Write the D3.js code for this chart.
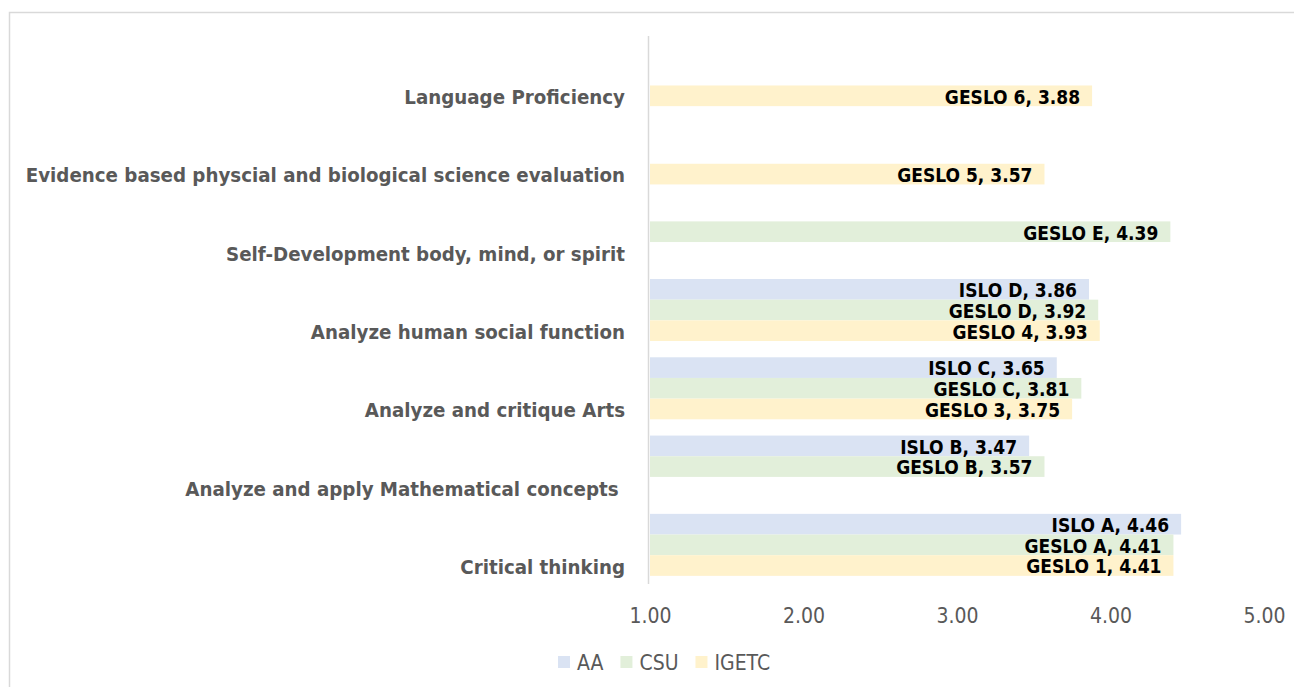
<!DOCTYPE html>
<html>
<head>
<meta charset="utf-8">
<script src="https://cdn.jsdelivr.net/npm/d3@7"></script>
<style>
  body { margin: 0; background: #fff; }
  svg { display: block; font-family: "Liberation Sans Narrow", "DejaVu Sans Condensed", "Liberation Sans", sans-serif; }
  .cat { white-space: pre; }
</style>
</head>
<body>
<svg id="chart" width="1294" height="687"></svg>
<script>
// categories top to bottom
const categories = [
    "Language Proficiency",
    "Evidence based physcial and biological science evaluation",
    "Self-Development body, mind, or spirit",
    "Analyze human social function",
    "Analyze and critique Arts",
    "Analyze and apply Mathematical concepts ",
    "Critical thinking"
];
const series = ["AA", "CSU", "IGETC"];
const seriesColors = ["#dae3f3", "#e2efda", "#fff2cc"];

// values per series, aligned with categories (null = no bar)
const aaValues    = [null, null, null, 3.86, 3.65, 3.47, 4.46];
const aaNames     = [null, null, null, "ISLO D", "ISLO C", "ISLO B", "ISLO A"];
const csuValues   = [null, null, 4.39, 3.92, 3.81, 3.57, 4.41];
const csuNames    = [null, null, "GESLO E", "GESLO D", "GESLO C", "GESLO B", "GESLO A"];
const igetcValues = [3.88, 3.57, null, 3.93, 3.75, null, 4.41];
const igetcNames  = ["GESLO 6", "GESLO 5", null, "GESLO 4", "GESLO 3", null, "GESLO 1"];
const tickValues  = [1, 2, 3, 4, 5];

const values = [aaValues, csuValues, igetcValues];
const names = [aaNames, csuNames, igetcNames];

const svg = d3.select("#chart");

// chart area border
svg.append("rect")
    .attr("x", 9.5).attr("y", 12.5)
    .attr("width", 1400).attr("height", 800)
    .attr("fill", "none")
    .attr("stroke", "#d9d9d9")
    .attr("stroke-width", 1.5);

const plotTop = 36, plotBottom = 584;
const x = d3.scaleLinear().domain([1, 5]).range([650, 1264]);
const y = d3.scaleBand().domain(categories).range([plotTop, plotBottom])
    .paddingInner(0.208).paddingOuter(0.104);
const inner = d3.scaleBand().domain(series).range([0, y.bandwidth()]);

let bars = [];
series.forEach((s, si) => {
    categories.forEach((c, ci) => {
        if (values[si][ci] != null) {
            bars.push({ s: s, si: si, c: c, v: values[si][ci], name: names[si][ci] });
        }
    });
});

svg.append("g").selectAll("rect")
    .data(bars)
    .join("rect")
    .attr("x", x(1))
    .attr("y", d => y(d.c) + inner(d.s))
    .attr("width", d => x(d.v) - x(1))
    .attr("height", inner.bandwidth())
    .attr("fill", d => seriesColors[d.si]);

// vertical axis line
svg.append("line")
    .attr("x1", 648.5).attr("x2", 648.5)
    .attr("y1", plotTop).attr("y2", plotBottom)
    .attr("stroke", "#d9d9d9")
    .attr("stroke-width", 1.5);

// data labels
svg.append("g").selectAll("text")
    .data(bars)
    .join("text")
    .attr("x", d => x(d.v) - 12)
    .attr("y", d => y(d.c) + inner(d.s) + inner.bandwidth() / 2 + 1)
    .attr("dy", "0.36em")
    .attr("text-anchor", "end")
    .attr("font-size", 19)
    .attr("font-weight", "bold")
    .attr("fill", "#000")
    .text(d => d.name + ", " + d.v.toFixed(2));

// category labels
svg.append("g").selectAll("text")
    .data(categories)
    .join("text")
    .attr("class", "cat")
    .attr("x", 625)
    .attr("y", c => y(c) + inner("IGETC") + inner.bandwidth() / 2 + 1)
    .attr("dy", "0.36em")
    .attr("text-anchor", "end")
    .attr("font-size", 20.3)
    .attr("font-weight", "bold")
    .attr("fill", "#595959")
    .text(c => c);

// x axis tick labels
const xAxis = d3.axisBottom(x)
    .tickValues(tickValues)
    .tickFormat(d3.format(".2f"))
    .tickSize(0)
    .tickPadding(0);
const gx = svg.append("g").attr("transform", "translate(0,615)").call(xAxis);
gx.attr("font-family", null).attr("font-size", null);
gx.select(".domain").remove();
gx.selectAll("text")
    .attr("dy", "0.36em")
    .attr("font-size", 21)
    .attr("fill", "#595959");

// legend
const legend = svg.append("g").attr("transform", "translate(0,662)");
let lx = 558;
series.forEach((s, i) => {
    const item = legend.append("g").attr("transform", `translate(${lx},0)`);
    item.append("rect")
        .attr("x", 0).attr("y", -6)
        .attr("width", 12).attr("height", 12)
        .attr("fill", seriesColors[i]);
    const t = item.append("text")
        .attr("x", 19).attr("dy", "0.36em")
        .attr("font-size", 21)
        .attr("fill", "#595959")
        .text(s);
    lx += 19 + t.node().getComputedTextLength() + 17;
});
</script>
</body>
</html>
